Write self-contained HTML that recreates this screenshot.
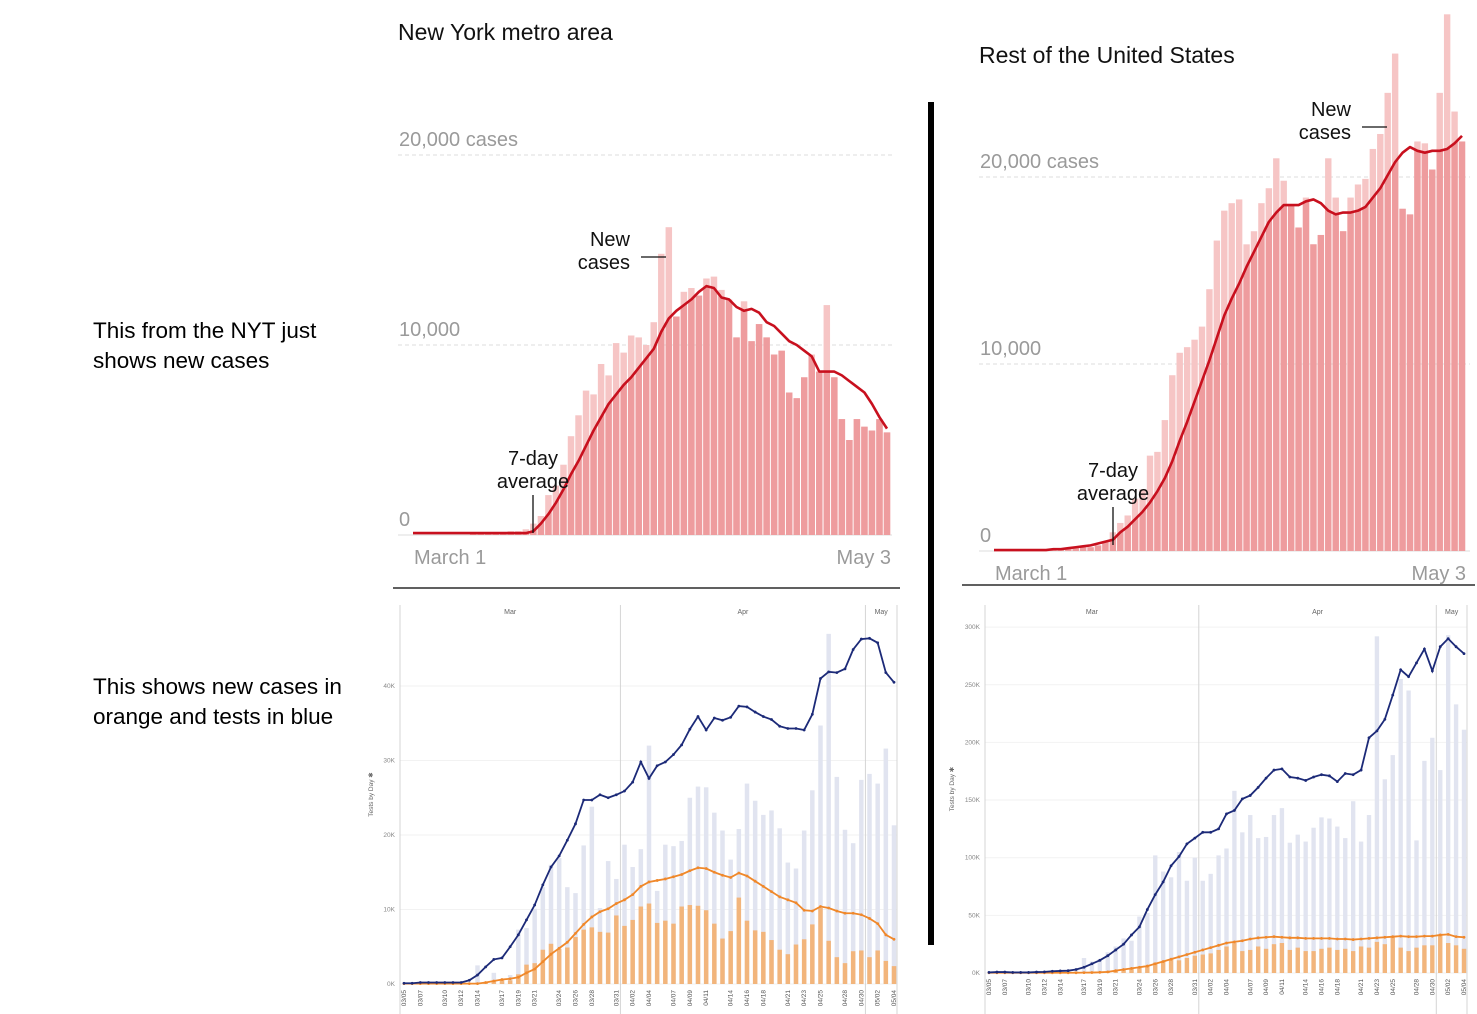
<!DOCTYPE html>
<html><head><meta charset="utf-8"><style>
html,body{margin:0;padding:0;background:#fff;width:1477px;height:1014px;overflow:hidden}
svg{display:block;font-family:"Liberation Sans",sans-serif}
</style></head><body>
<svg id="s" width="1477" height="1014" viewBox="0 0 1477 1014">
<text x="93" y="338" font-size="22.5" fill="#000">This from the NYT just</text>
<text x="93" y="368" font-size="22.5" fill="#000">shows new cases</text>
<text x="93" y="694" font-size="22.5" fill="#000">This shows new cases in</text>
<text x="93" y="724" font-size="22.5" fill="#000">orange and tests in blue</text>
<rect x="928" y="102" width="6" height="843" fill="#000"/>
<line x1="393" y1="588" x2="900" y2="588" stroke="#000" stroke-width="1.2"/>
<line x1="962" y1="585" x2="1475" y2="585" stroke="#000" stroke-width="1.2"/>
<g id="g"></g>
</svg>
<script>
// NYT New York metro (thousands of cases, Mar 1 - May 3)
const nyBars=[0,0,0,0,0,0,0,0,0.05,0.05,0.1,0.1,0.1,0.2,0.2,0.3,0.6,1.0,2.1,2.6,3.7,5.2,6.3,7.6,7.4,9,8.4,10.1,9.6,10.5,10.4,10,11.2,14.8,16.2,11.5,12.8,13,12.6,13.5,13.6,12.9,12.4,10.4,12.3,10.2,11.1,10.4,9.5,9.7,7.5,7.2,8.3,9.5,8.6,12.1,8.3,6.1,5.0,6.1,5.7,5.5,6.1,5.4];
const nyAvg=[0.1,0.1,0.1,0.1,0.1,0.1,0.1,0.1,0.1,0.1,0.1,0.1,0.1,0.1,0.1,0.1,0.2,0.6,1.1,1.7,2.4,3.2,3.9,4.7,5.5,6.2,6.9,7.4,7.9,8.3,8.8,9.3,9.8,10.7,11.4,11.8,12.1,12.4,12.8,13.1,13.0,12.5,12.4,12.0,11.8,11.9,11.7,11.2,11.0,10.6,10.2,10.0,9.7,9.4,8.6,8.6,8.6,8.4,8.1,7.8,7.5,6.9,6.2,5.6];
// NYT Rest of US
const usBars=[0,0,0,0,0,0,0.05,0.05,0.1,0.1,0.1,0.15,0.2,0.2,0.3,0.5,1.0,1.5,1.9,2.8,3.3,5.1,5.3,7.0,9.4,10.6,10.9,11.3,12,14.0,16.6,18.2,18.6,18.8,16.4,17.1,18.6,19.4,21,19.8,18.5,17.3,18.9,16.4,16.9,21,18.9,17.1,18.9,19.6,19.9,21.5,22.3,24.5,26.6,18.3,18,21.9,21.8,20.4,24.5,28.7,23.5,21.9];
const usAvg=[0.05,0.05,0.05,0.05,0.05,0.05,0.05,0.05,0.1,0.1,0.15,0.2,0.25,0.3,0.4,0.5,0.6,1.0,1.3,1.7,2.1,2.6,3.2,3.9,4.8,5.9,6.9,8.0,9.1,10.2,11.4,12.6,13.5,14.3,15.2,16.0,16.8,17.6,18.1,18.5,18.5,18.5,18.7,18.8,18.6,18.2,18.0,18.1,18.1,18.2,18.4,18.9,19.4,20.1,20.8,21.3,21.6,21.4,21.3,21.4,21.4,21.5,21.8,22.2];
const nytTicks=[0,10000,20000];
// Tests charts (thousands, 03/05 - 05/04)
const tlTests=[0,0,0,0,0,0,0,0,0,2.5,0.3,1.5,0.3,1.2,7.3,7.5,10.1,13,16,16.9,13,12.2,18.6,23.8,10.2,16.5,14.1,18.7,15.7,18.1,32,12.5,18.7,18.5,19.2,25,26.5,26.4,23,20.6,16.7,20.8,26.9,24.6,22.7,23.3,20.9,16.3,15.5,20.6,26,34.7,47,27.8,20.7,18.9,27.4,28.2,26.9,31.6,21.3];
const tlCases=[0,0,0,0,0,0,0,0,0,0,0.2,0.4,0.6,0.5,1.3,2.6,2.8,4.6,5.4,4.7,4.9,6.3,7.3,7.6,7.0,6.9,9.2,7.8,8.6,10.4,10.8,8.2,8.5,8.1,10.4,10.6,10.5,9.9,8.1,6.1,7.1,11.6,8.5,7.2,7.0,5.9,4.6,4.0,5.3,6.0,8.0,10.2,5.8,3.6,2.8,4.4,4.5,3.6,4.5,3.1,2.4];
const tlTestAvg=[0.1,0.1,0.2,0.2,0.2,0.2,0.2,0.2,0.5,1.2,2.3,3.3,3.5,5,6.6,8.6,10.6,13.3,15.7,17.2,19.3,21.5,24.7,24.7,25.4,25.0,25.4,25.9,27.1,29.8,27.6,29.3,29.8,30.8,32.1,34.2,35.9,34.1,35.7,35.4,35.8,37.3,37.2,36.5,35.9,35.5,34.6,34.3,34.3,34.1,36.2,41.0,41.9,41.8,42.3,44.9,46.3,46.4,45.8,41.8,40.5];
const tlCaseAvg=[0.05,0.05,0.05,0.05,0.05,0.05,0.05,0.05,0.05,0.05,0.2,0.4,0.6,0.7,0.9,1.5,2.0,3.0,4.0,4.8,5.6,6.8,8.0,9.0,9.7,10.1,10.8,11.3,12.0,13.1,13.7,13.9,14.1,14.4,14.7,15.2,15.6,15.5,15.0,14.6,14.3,14.9,14.5,13.8,13.1,12.4,11.7,11.3,10.9,9.9,9.8,10.4,10.2,9.8,9.5,9.5,9.3,8.8,8.1,6.6,6.0];
const trTests=[0,0,0,0,0,0,0,0,1,1,2,3,13,10,12,18,23,30,28,49,52,102,88,83,105,80,100,80,86,102,108,158,122,137,117,118,137,143,113,120,114,126,135,134,127,117,149,114,137,292,168,189,255,245,115,184,204,176,293,233,211];
const trCases=[0,0,0,0,0,0,0,0,0,0,0,0,0,0.5,0.5,1,2,3,4,5,6,9,10,12,11,13,15,16,17,20,23,26,19,20,23,21,25,26,20,22,19,19,21,22,20,21,19,23,22,27,25,31,22,19,22,24,24,33,26,24,21];
const trTestAvg=[0.5,0.8,0.8,0.5,0.5,0.5,0.8,1,1.5,1.8,2,3,5,8,11,15,20,25,33,40,55,68,79,93,101,112,117,122,122,125,138,141,151,154,161,169,176,177,170,169,167,170,172,171,166,173,172,176,204,210,220,241,263,257,269,281,262,283,290,283,277];
const trCaseAvg=[0.2,0.2,0.2,0.2,0.2,0.2,0.2,0.2,0.2,0.2,0.2,0.2,0.3,0.4,0.6,1,2,3,4,5,6,8,10,12,14,16,18,20,22,24,26,27,28,29.5,30.5,31,31.5,31,30.5,30.5,30,30,30,30,29.5,29.5,29,29.5,30,30.5,31,31.5,32,31.5,31.5,32,32,33,33.5,31.5,31];
const dateLabels=["03/05","03/07","03/10","03/12","03/14","03/17","03/19","03/21","03/24","03/26","03/28","03/31","04/02","04/04","04/07","04/09","04/11","04/14","04/16","04/18","04/21","04/23","04/25","04/28","04/30","05/02","05/04"];
const leftTicks=[0,10,20,30,40];
const rightTicks=[0,50,100,150,200,250,300];
const months=["Mar","Apr","May"];

const NS="http://www.w3.org/2000/svg";
const G=document.getElementById('g');
function mk(tag,attrs,parent,txt){const e=document.createElementNS(NS,tag);for(const k in attrs)e.setAttribute(k,attrs[k]);if(txt!==undefined)e.textContent=txt;(parent||G).appendChild(e);return e;}
function dayIndex(lbl){const m=+lbl.slice(0,2),d=+lbl.slice(3);return m===3?d-5:m===4?26+d:56+d;}

function nyt(o){
  const g=mk('g',{});
  
  
  const n=o.bars.length, step=(o.x1-o.x0)/(n-1);
  const X=i=>o.x0+i*step, Y=v=>o.y0-v*o.pk;
  const t=mk('text',{x:o.tx,y:o.ty,'font-size':23,fill:'#111'},g,o.title);
  
  
  nytTicks.forEach(v=>{
    const y=o.y0-v/1000*o.pk;
    const ln=mk('line',{x1:o.gx0,x2:o.gx1,y1:y,y2:y,stroke:'#ddd','stroke-dasharray':v?'4,3':'none'},g);
    
    
    const lb=mk('text',{x:o.gx0+1,y:y-9,'font-size':20,fill:'#9a9a9a'},g,v===0?'0':(v.toLocaleString('en-US')+(v===20000?' cases':'')));
    
    
  });
  const w=step*0.86;
  const cid='clip'+o.name;
  const cp=mk('clipPath',{id:cid},g);
  let d=`M${X(0)-step/2},${o.y0}`;
  o.avg.forEach((v,i)=>{d+=` L${X(i)-(i===0?step/2:0)},${Y(v)}`;});
  d+=` L${X(n-1)+step/2},${Y(o.avg[n-1])} L${X(n-1)+step/2},${o.y0}Z`;
  mk('path',{d},cp);
  const bl=mk('g',{},g), bd=mk('g',{'clip-path':`url(#${cid})`},g);
  o.bars.forEach((v,i)=>{
    const b=mk('rect',{x:X(i)-w/2,y:Y(v),width:w,height:v*o.pk,fill:'#f6c5c5'},bl);
    
    
    const b2=mk('rect',{x:X(i)-w/2,y:Y(v),width:w,height:v*o.pk,fill:'#ee9c9e'},bd);
    
    
  });
  const pl=mk('polyline',{points:o.avg.map((v,i)=>`${X(i)},${Y(v)}`).join(' '),fill:'none',stroke:'#c8101e','stroke-width':2.6,'stroke-linejoin':'round'},g);
  
  
  const a1=mk('text',{x:X(0)+1,y:o.y0+29,'font-size':20,fill:'#9a9a9a'},g,'March 1');
  
  
  const a2=mk('text',{x:X(n-1)+4,y:o.y0+29,'font-size':20,fill:'#9a9a9a','text-anchor':'end'},g,'May 3');
  
  
  const nc=mk('text',{x:o.ncx,y:o.ncy,'font-size':20,fill:'#111','text-anchor':'end'},g);
  
  
  mk('tspan',{x:o.ncx,dy:0},nc,'New');mk('tspan',{x:o.ncx,dy:23},nc,'cases');
  const nl=mk('line',{x1:o.ncx+11,x2:o.ncx+36,y1:o.ncy+11,y2:o.ncy+11,stroke:'#111','stroke-width':1.3},g);
  
  
  const av=mk('text',{x:o.avx,y:o.avy,'font-size':20,fill:'#111','text-anchor':'middle'},g);
  
  
  mk('tspan',{x:o.avx,dy:0},av,'7-day');mk('tspan',{x:o.avx,dy:23},av,'average');
  const al=mk('line',{x1:o.avx,x2:o.avx,y1:o.avy+30,y2:o.avy+68,stroke:'#111','stroke-width':1.3},g);
  
  
}
nyt({name:'ny-metro-chart',bars:nyBars,avg:nyAvg,x0:413,x1:887,y0:535,pk:19.0,tx:398,ty:40,title:'New York metro area',gx0:398,gx1:892,ncx:630,ncy:246,avx:533,avy:465});
nyt({name:'rest-of-us-chart',bars:usBars,avg:usAvg,x0:994,x1:1462,y0:551,pk:18.7,tx:979,ty:63,title:'Rest of the United States',gx0:979,gx1:1470,ncx:1351,ncy:116,avx:1113,avy:477});

function tests(o){
  const g=mk('g',{});
  
  
  const n=o.tests.length, step=(o.x1-o.x0)/(n-1);
  const X=i=>o.x0+i*step, Y=v=>o.y0-v*o.pk;
  o.ticks.forEach(v=>{
    const ln=mk('line',{x1:o.ax0,x2:o.ax1,y1:Y(v),y2:Y(v),stroke:'#f2f2f2'},g);
    
    
    const lb=mk('text',{x:o.ax0-5,y:Y(v)+2,'font-size':6.5,fill:'#888','text-anchor':'end'},g,v+'K');
    
    
  });
  [o.ax0,X(dayIndex('04/01'))-step/2,X(dayIndex('05/01'))-step/2,o.ax1].forEach((x,k)=>{
    const ln=mk('line',{x1:x,x2:x,y1:o.top,y2:1014,stroke:'#d4d4d4'},g);
    
    
  });
  const mx=[(o.ax0+X(26.5))/2,(X(26.5)+X(56.5))/2,(X(56.5)+o.ax1)/2];
  months.forEach((m,k)=>{
    const t=mk('text',{x:mx[k],y:o.top+9,'font-size':7,fill:'#666','text-anchor':'middle'},g,m);
    
    
  });
  const w=step*0.55;
  o.tests.forEach((v,i)=>{
    const b=mk('rect',{x:X(i)-w/2,y:Y(v),width:w,height:v*o.pk,fill:'#e1e4f0'},g);
    
    
  });
  o.cases.forEach((v,i)=>{
    const b=mk('rect',{x:X(i)-w/2,y:Y(v),width:w,height:v*o.pk,fill:'#f2b57c'},g);
    
    
  });
  [[o.caseAvg,'#f0882a','cases-average-line'],[o.testAvg,'#1c2a78','tests-average-line']].forEach(([arr,c,nm])=>{
    const pl=mk('polyline',{points:arr.map((v,i)=>`${X(i)},${Y(v)}`).join(' '),fill:'none',stroke:c,'stroke-width':1.8},g);
    
    
    arr.forEach((v,i)=>{
      const p=mk('circle',{cx:X(i),cy:Y(v),r:1.4,fill:c},g);
      
      
    });
  });
  dateLabels.forEach(l=>{
    const x=X(dayIndex(l));
    const t=mk('text',{x:0,y:0,'font-size':6.5,fill:'#555','text-anchor':'end',transform:`translate(${x+2},${o.y0+6}) rotate(-90)`},g,l);
    
    
  });
  const yt=mk('text',{x:0,y:0,'font-size':6.5,fill:'#666','text-anchor':'middle',transform:`translate(${o.ytx},${(o.top+o.y0)/2}) rotate(-90)`},g,'Tests by Day ✱');
  
  
}
tests({name:'ny-tests-chart',tests:tlTests,cases:tlCases,testAvg:tlTestAvg,caseAvg:tlCaseAvg,x0:404,x1:894,y0:984,pk:7.45,ticks:leftTicks,ax0:400,ax1:897,top:605,ytx:373});
tests({name:'us-tests-chart',tests:trTests,cases:trCases,testAvg:trTestAvg,caseAvg:trCaseAvg,x0:989,x1:1464,y0:973,pk:1.153,ticks:rightTicks,ax0:985,ax1:1467,top:605,ytx:954});
</script>
</body></html>
